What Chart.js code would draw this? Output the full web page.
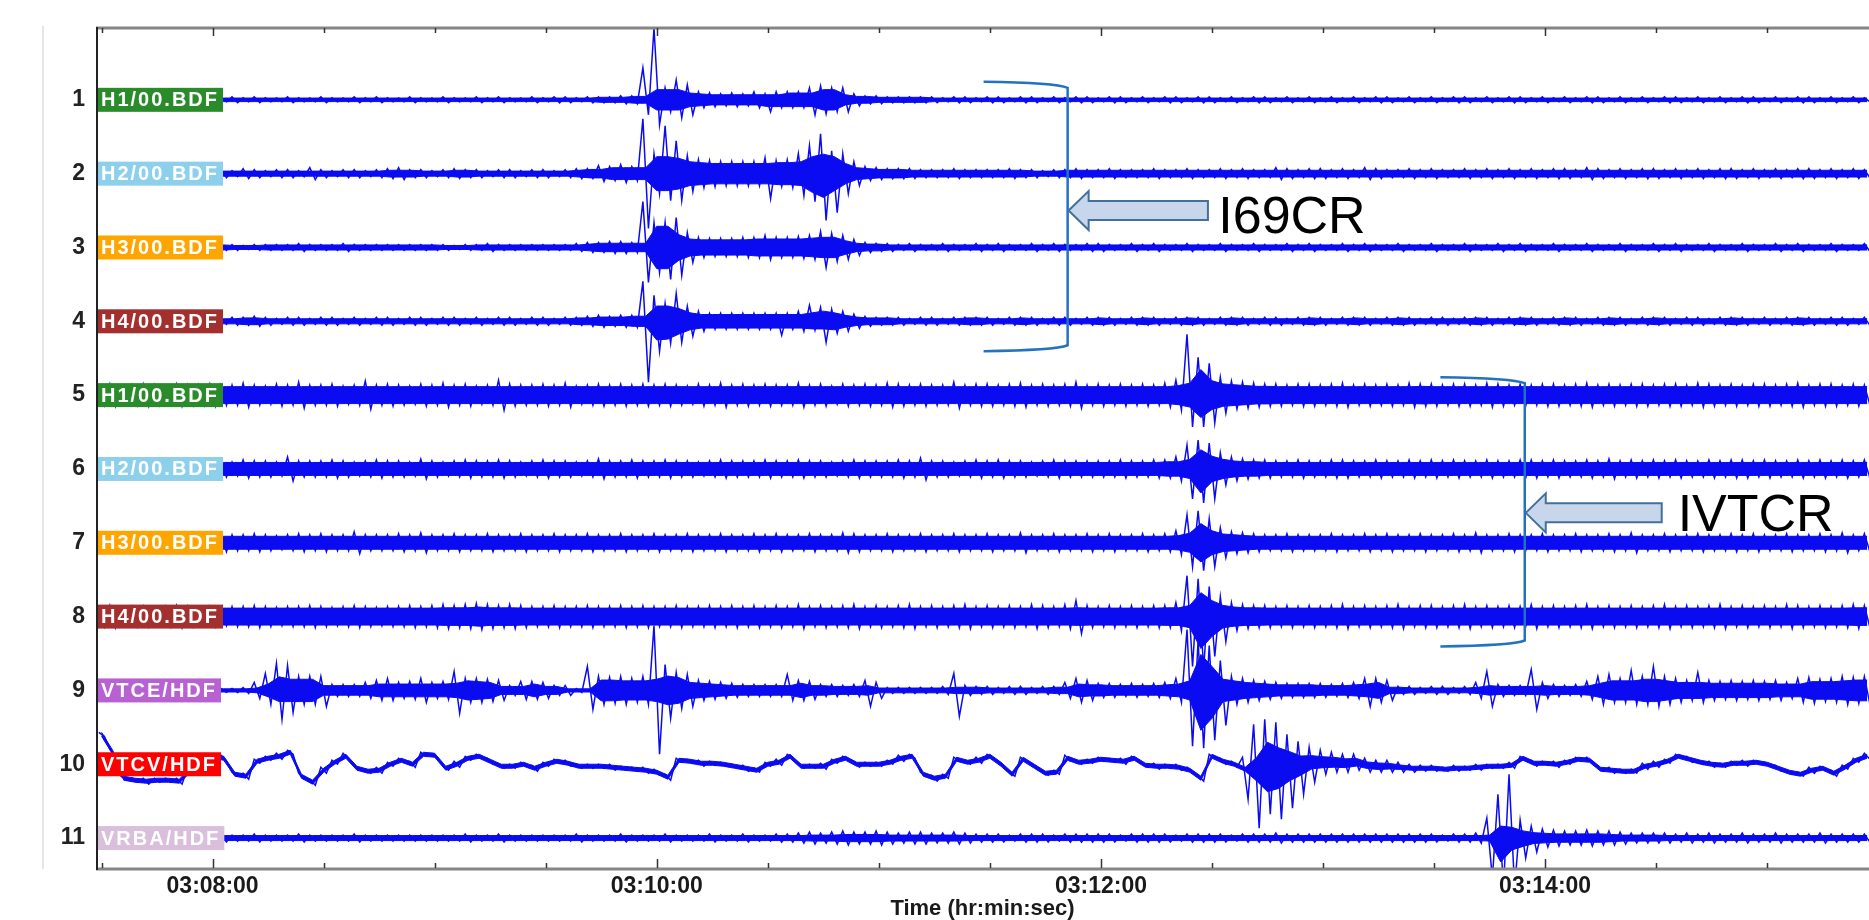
<!DOCTYPE html>
<html>
<head>
<meta charset="utf-8">
<script src="https://cdn.jsdelivr.net/npm/chart.js@4.4.1/dist/chart.umd.min.js"></script>
<style>
  html, body { margin: 0; padding: 0; background: #fff; overflow: hidden; }
  #wrap { width: 1869px; height: 920px; position: relative; }
</style>
</head>
<body>
<div id="wrap"><canvas id="seis"></canvas></div>
<script>
// rows top to bottom
const rowNums = ['1', '2', '3', '4', '5', '6', '7', '8', '9', '10', '11'];
const chanNames = ['H1/00.BDF', 'H2/00.BDF', 'H3/00.BDF', 'H4/00.BDF',
  'H1/00.BDF', 'H2/00.BDF', 'H3/00.BDF', 'H4/00.BDF',
  'VTCE/HDF', 'VTCV/HDF', 'VRBA/HDF'];
const chanColors = ['#2a8b2a', '#8dd0ec', '#ffa500', '#a3302f',
  '#2a8b2a', '#8dd0ec', '#ffa500', '#a3302f',
  '#b861d3', '#ff0000', '#d9bfdc'];

// time axis, seconds after 03:08:00
const binStart = -30, binStep = 3;
const timeTicks = [0, 120, 240, 360];
const timeLabels = ['03:08:00', '03:10:00', '03:12:00', '03:14:00'];

// trace half-widths per 3 s bin ([up, down] where they differ)
const i69h1 = [
  2,3,2,3,2,2,3,2,2,3, 2,2,3,2,3,2,2,3,2,2, 3,2,2,3,2,3,2,2,3,2, 2,3,2,2,3,2,3,2,2,3,
  2,3,3,2,3,3,3,4,4,[32,15], [72,25],12,[20,18],15,8,7,6,7,6,8, [6,12],8,8,8,[12,15],14,12,12,6,4, 4,3,3,3,3,3,2,3,3,2,
  3,3,2,3,3,2,3,2,3,3, 2,3,3,2,3,2,3,3,2,3, 3,2,3,2,3,3,2,3,2,3, 2,3,2,3,2,3,3,2,3,2,
  3,2,3,3,2,3,2,3,3,2, 3,2,3,2,3,3,2,3,2,3, 2,3,3,2,3,2,3,2,3,3, 2,3,2,3,3,2,3,2,3,2];
const i69h2 = [
  4,3,4,4,3,4,3,4,4,3, 4,4,3,5,4,3,4,4,3,6, 4,3,4,4,3,4,5,6,4,4, 3,4,5,4,4,3,4,4,3,4,
  4,3,4,5,5,8,7,9,7,[55,55], 20,[48,27],[33,27],18,14,13,12,12,12,12, [16,25],13,14,[20,22],28,[40,47],[23,39],20,12,7, 6,5,5,5,4,4,4,5,4,4,
  4,4,5,4,4,3,4,4,5,4, 4,5,4,4,4,5,4,4,5,4, 4,5,4,5,4,4,6,5,4,5, 5,4,5,4,6,5,4,4,5,4,
  5,4,4,5,4,5,4,5,4,5, 4,5,5,4,6,5,4,5,4,5, 5,4,5,4,5,4,5,5,4,5, 4,5,4,5,5,4,5,4,5,4];
const i69h3 = [
  3,3,2,3,3,3,2,3,3,3, 3,3,3,2,3,3,3,3,4,3, 3,3,4,3,3,3,3,3,3,3, 3,3,2,3,3,4,3,3,3,3,
  3,3,3,4,5,5,6,6,5,[46,35], 25,[25,32],[30,28],15,10,9,9,9,10,10, 12,10,10,11,12,[16,20],14,12,8,5, 4,4,3,4,3,3,4,3,3,4,
  3,4,3,3,4,3,4,3,3,4, 4,3,3,4,3,4,3,3,4,3, 3,4,3,3,4,3,3,4,3,4, 3,3,4,3,4,3,3,4,3,3,
  4,3,3,4,3,3,4,3,4,3, 3,4,3,3,4,3,3,4,3,3, 4,3,4,3,3,4,3,3,4,3, 3,4,3,4,3,3,4,3,3,4];
const i69h4 = [
  4,3,4,4,3,4,4,3,4,3, 4,3,4,4,5,4,3,4,4,3, 4,4,3,4,3,4,4,3,4,4, 3,4,4,3,4,3,4,4,3,4,
  4,3,4,4,5,6,5,6,6,[40,61], [26,30],[18,22],[28,21],15,10,8,8,8,8,8, 8,[8,14],8,10,[16,9],[14,21],12,10,7,5, 4,4,4,3,4,4,3,4,4,4,
  4,3,4,4,4,3,4,4,3,4, 4,4,3,4,4,4,3,4,4,4, 3,4,4,4,3,4,4,3,4,4, 4,3,4,4,4,3,4,4,4,3,
  4,4,3,4,4,4,3,4,4,4, 3,4,4,4,3,4,4,4,3,4, 4,4,3,4,4,3,4,4,4,3, 4,3,4,4,4,3,4,4,3,4];
const ivth1 = [
  10,11,9,10,11,10,9,11,10,10, 11,10,10,12,10,9,11,10,13,10, 10,11,9,10,14,10,11,10,9,11, 10,12,10,11,9,10,15,11,10,10,
  11,10,12,9,10,11,10,11,10,11, 10,11,10,9,11,10,12,10,11,10, 11,10,10,12,10,11,9,11,10,11, 10,12,11,10,11,10,10,13,10,11,
  11,10,11,12,10,11,10,11,13,10, 11,10,11,10,11,10,12,15,[61,32],[38,32], [32,28],18,14,13,12,11,11,10,11,11, 10,11,12,10,11,10,11,10,12,11,
  11,10,11,11,10,12,11,10,11,10, 11,11,10,11,12,10,11,10,11,11, 10,11,11,10,12,11,10,11,10,11, 11,10,11,12,10,11,11,10,11,10];
const ivth2 = [
  8,7,8,9,8,7,8,8,9,7, 8,8,7,9,8,8,7,12,8,8, 8,9,8,7,8,9,8,8,7,10, 8,7,8,9,8,8,9,8,7,8,
  9,8,8,7,8,10,8,8,9,8, 8,9,8,8,7,8,9,8,8,8, 9,8,8,9,8,8,7,8,9,8, 8,8,9,8,11,8,8,7,8,9,
  8,9,8,8,7,8,9,8,8,8, 8,8,9,8,8,9,9,12,[24,30],[29,34], [26,30],16,12,10,9,9,8,8,9,8, 8,9,9,8,8,9,8,8,9,8,
  9,8,9,8,8,9,8,8,9,9, 8,9,8,8,9,8,10,8,9,8, 9,8,9,8,8,9,8,9,9,8, 9,8,8,9,8,9,8,9,8,9];
const ivth3 = [
  8,8,7,8,9,8,8,7,8,8, 8,9,8,8,9,8,7,8,9,8, 9,8,8,11,8,8,8,9,8,10, 8,8,9,8,8,9,8,8,9,8,
  8,9,8,8,9,8,8,9,8,8, 9,8,8,9,8,8,9,8,8,9, 8,9,8,8,9,8,8,10,9,8, 8,9,8,8,9,8,8,9,8,8,
  9,8,8,10,8,8,9,8,8,9, 8,9,8,8,9,8,9,12,[28,24],[32,28], [24,24],15,11,10,9,8,8,9,8,8, 8,9,8,8,9,8,9,8,8,9,
  8,8,9,8,10,8,8,9,8,8, 9,8,8,9,8,8,9,8,10,8, 8,9,8,8,9,8,8,9,8,9, 8,8,9,8,8,9,8,10,8,9];
const ivth4 = [
  10,11,9,10,10,9,10,11,10,9, 10,9,10,10,11,10,9,10,10,11, 10,9,10,11,10,9,10,10,11,10, 11,12,11,12,13,12,11,12,11,10,
  10,11,10,10,11,10,10,11,10,11, 10,10,11,10,10,11,10,11,10,11, 10,11,10,12,10,11,10,11,12,10, 11,10,11,12,10,11,10,11,12,10,
  11,10,11,10,12,11,10,12,[16,17],11, 10,11,10,11,10,11,11,14,[41,50],[38,52], [30,40],[20,25],14,12,11,11,10,11,10,11, 10,11,12,10,11,10,11,12,10,11,
  11,10,11,12,10,11,10,11,10,12, 10,11,10,11,12,10,11,10,11,10, 11,12,10,11,10,11,12,10,11,10, 11,10,12,11,10,11,10,11,12,11];
const vtce = [
  2,2,2,2,2,2,2,2,2,2, 2,2,2,3,8,[17,14],[27,29],[25,22],14,14, [14,16],6,6,6,8,10,[12,10],8,9,12, 8,9,[19,23],12,12,11,10,5,9,9,
  8,5,5,2,[24,19],14,13,14,12,14, [65,64],[26,28],18,16,10,9,8,7,6,6, 6,6,[16,10],10,9,6,6,5,6,[10,16], 8,3,3,3,3,3,4,[17,26],5,4,
  4,3,4,4,3,4,4,8,12,10, 7,7,6,7,6,7,8,12,[61,56],[50,58], [45,50],[30,35],14,12,10,9,8,7,7,7, 7,6,7,8,[12,16],12,10,4,4,3,
  4,4,3,4,8,[19,16],6,5,5,[21,19], 8,6,5,6,9,14,[16,12],12,[20,14],14, [24,16],14,12,10,[18,12],10,9,10,9,10, 9,10,8,12,13,11,12,14,13,14];
const vtcv = [
  2,3,2,2,3,2,2,3,2,2, 2,3,2,3,2,2,3,2,3,3, 3,2,3,2,2,3,2,2,3,2, 2,2,3,2,2,3,2,2,2,3,
  2,2,3,2,2,2,3,2,2,3, 3,3,2,2,3,2,2,2,3,2, 2,3,2,2,2,3,2,2,3,2, 2,2,3,2,2,3,2,2,2,3,
  2,3,2,2,3,2,2,3,2,2, 2,2,3,2,2,3,2,3,3,3, 2,3,3,[12,30],[40,64],[45,50],[42,55],[30,44],[23,30],[15,20], 12,10,9,8,7,6,6,5,4,3,
  3,2,3,2,3,2,2,3,2,3, 2,3,2,2,3,2,3,2,2,3, 3,2,2,3,2,3,2,2,3,2, 2,3,2,2,3,2,3,2,2,3];
// slow drift of the VTCV line (down = positive)
const vtcvMid = [
  -30,-12,14,16,17,16,16,17,6,-2, -8,-6,10,12,-3,-6,-8,-12,12,18, 6,-2,-8,4,7,6,0,-4,0,-10, -9,4,0,-6,-8,-3,2,2,0,4,
  0,-3,-1,2,2,2,3,4,5,6, 8,13,-4,-3,-1,-1,0,2,4,6, 0,-2,-8,2,2,2,-3,-6,0,0, 0,-2,-6,-8,10,14,12,-5,-2,-4,
  -8,0,10,-5,2,9,8,-6,-2,-3, -5,-4,-3,-6,1,2,2,3,6,14, -8,-3,0,5,0,0,0,0,0,-2, -2,-2,-1,-2,1,2,2,3,4,4,
  4,5,4,4,3,2,2,1,-6,-1, -1,0,-2,-5,-4,5,6,7,7,2, 0,-3,-8,-5,-2,0,1,-1,-1,-2, 0,4,8,10,6,4,9,3,-4,-8];
const vrba = [
  3,3,3,3,3,3,3,3,3,3, 3,4,3,3,4,3,3,3,4,3, 3,3,3,4,3,3,3,3,3,3, 3,3,3,4,3,3,4,3,3,3,
  3,3,3,4,3,3,3,4,3,3, 3,4,3,3,3,4,3,3,4,3, 3,4,4,5,6,5,6,7,6,6, 7,6,5,6,6,5,5,6,5,4,
  4,4,3,4,4,4,3,4,4,4, 4,4,3,4,4,4,4,3,4,4, 4,4,3,4,4,4,5,4,4,4, 4,4,4,4,4,4,4,4,4,4,
  4,3,4,4,5,[20,40],[44,50],[64,50],[18,20],[12,14], 9,8,7,7,8,7,7,6,5,5, 5,5,4,5,4,5,4,4,5,4, 4,5,4,4,4,5,4,4,4,4];

const traces = [i69h1, i69h2, i69h3, i69h4, ivth1, ivth2, ivth3, ivth4, vtce, vtcv, vrba];
const traceMid = { 9: vtcvMid };
// solid core half-width of each trace between wiggles, and how much of a burst is solid
const coreWidth = [1.8, 2.5, 2, 2.5, 8.5, 6.5, 6.5, 8.5, 1.5, 2, 2.5];
const coreFrac = [0.85, 0.85, 0.85, 0.85, 0.8, 0.8, 0.8, 0.8, 0.8, 0.55, 0.6];

const GAP = 74;
const blue = '#0b0bf2';

const datasets = [];
traces.forEach((amp, k) => {
  const mid = traceMid[k];
  const core = coreWidth[k];
  const frac = coreFrac[k];
  const n = amp.length;
  const upAt = i => Array.isArray(amp[i]) ? amp[i][0] : amp[i];
  const dnAt = i => Array.isArray(amp[i]) ? amp[i][1] : amp[i];
  const centre = i => k * GAP + (mid ? mid[i] : 0);
  // solid part of the band
  const coreOf = (f, i) => {
    const m = Math.min(f(Math.max(i - 1, 0)), f(i), f(Math.min(i + 1, n - 1)));
    return Math.min(f(i), Math.max(core, frac * m));
  };
  const hi = [], lo = [], wig = [];
  amp.forEach((v, i) => {
    const t = binStart + i * binStep;
    const c = centre(i);
    hi.push({ x: t, y: c - coreOf(upAt, i) });
    lo.push({ x: t, y: c + coreOf(dnAt, i) });
    wig.push({ x: t - binStep / 4, y: c - upAt(i) });
    wig.push({ x: t + binStep / 4, y: c + dnAt(i) });
  });
  datasets.push({ data: hi, borderColor: blue, borderWidth: 1, pointRadius: 0, fill: false });
  datasets.push({ data: lo, borderColor: blue, borderWidth: 1, pointRadius: 0, fill: '-1', backgroundColor: blue });
  datasets.push({ data: wig, borderColor: blue, borderWidth: 1.5, pointRadius: 0, fill: false });
});

// bracket + arrow notes (times in s, rows 0-based)
const notes = [
  { text: 'I69CR', t0: 208.3, t1: 231, rowTop: 0, rowBot: 3, arrowRow: 1.5, arrowOff: 0, tailT: 268.9, textT: 271.7, textDy: 22 },
  { text: 'IVTCR', t0: 331.7, t1: 354.5, rowTop: 4, rowBot: 7, arrowRow: 5.5, arrowOff: 7, tailT: 391.5, textT: 395.8, textDy: 18 }
];

const overlay = {
  id: 'overlay',
  beforeDraw(chart) {
    const { ctx } = chart;
    ctx.save();
    ctx.strokeStyle = '#e6e6e6';
    ctx.lineWidth = 2;
    ctx.beginPath();
    ctx.moveTo(43, 26);
    ctx.lineTo(43, 869);
    ctx.stroke();
    ctx.restore();
  },
  afterDatasetsDraw(chart) {
    const { ctx, chartArea: a, scales: { x, y } } = chart;
    ctx.save();

    // channel name boxes
    ctx.font = 'bold 20px "Liberation Sans", Arial, sans-serif';
    ctx.letterSpacing = '2px';
    ctx.textBaseline = 'middle';
    chanNames.forEach((name, k) => {
      const yc = y.getPixelForValue(k * GAP);
      const w = ctx.measureText(name).width + 8;
      ctx.fillStyle = chanColors[k];
      ctx.fillRect(a.left + 1, yc - 12, w, 24);
      ctx.fillStyle = '#fff';
      ctx.fillText(name, a.left + 5, yc + 1);
    });
    ctx.letterSpacing = '0px';

    // frame
    ctx.strokeStyle = '#858585';
    ctx.lineWidth = 3;
    ctx.beginPath();
    ctx.moveTo(a.left, a.top); ctx.lineTo(a.right, a.top);
    ctx.moveTo(a.left, a.bottom + 1); ctx.lineTo(a.right, a.bottom + 1);
    ctx.stroke();
    ctx.strokeStyle = '#222';
    ctx.lineWidth = 2;
    ctx.beginPath();
    ctx.moveTo(a.left + 1, a.top - 1); ctx.lineTo(a.left + 1, a.bottom + 2);
    ctx.stroke();

    // time ticks on both edges
    ctx.strokeStyle = '#333';
    ctx.lineWidth = 1.5;
    ctx.beginPath();
    x.ticks.forEach(tk => {
      const px = Math.round(x.getPixelForValue(tk.value)) + 0.5;
      const major = timeTicks.includes(tk.value);
      ctx.moveTo(px, a.top); ctx.lineTo(px, a.top + (major ? 8 : 5));
      ctx.moveTo(px, a.bottom); ctx.lineTo(px, a.bottom - (major ? 9 : 5));
    });
    ctx.stroke();

    // brackets, arrows and station names
    notes.forEach(n => {
      const xl = x.getPixelForValue(n.t0);
      const xr = x.getPixelForValue(n.t1);
      const yt = y.getPixelForValue(n.rowTop * GAP - 18);
      const yb = y.getPixelForValue(n.rowBot * GAP + 30);
      ctx.strokeStyle = '#2272c0';
      ctx.lineWidth = 2.5;
      ctx.beginPath();
      ctx.moveTo(xl, yt);
      ctx.quadraticCurveTo(xr - 12, yt + 1, xr, yt + 6);
      ctx.lineTo(xr, yb - 6);
      ctx.quadraticCurveTo(xr - 12, yb - 1, xl, yb);
      ctx.stroke();

      const ya = y.getPixelForValue(n.arrowRow * GAP + n.arrowOff);
      const tip = xr + 1;
      const tail = x.getPixelForValue(n.tailT);
      ctx.beginPath();
      ctx.moveTo(tip, ya);
      ctx.lineTo(tip + 20, ya - 19.5);
      ctx.lineTo(tip + 20, ya - 9.5);
      ctx.lineTo(tail, ya - 9.5);
      ctx.lineTo(tail, ya + 9.5);
      ctx.lineTo(tip + 20, ya + 9.5);
      ctx.lineTo(tip + 20, ya + 19.5);
      ctx.closePath();
      ctx.fillStyle = '#c8d6ec';
      ctx.fill();
      ctx.strokeStyle = '#41709c';
      ctx.lineWidth = 2;
      ctx.stroke();

      ctx.fillStyle = '#000';
      ctx.font = '52px "Liberation Sans", Arial, sans-serif';
      ctx.textBaseline = 'alphabetic';
      ctx.textAlign = 'left';
      ctx.fillText(n.text, x.getPixelForValue(n.textT), ya + n.textDy);
    });
    ctx.restore();
  }
};

const labelFont = { family: '"Liberation Sans", Arial, sans-serif', size: 23, weight: 'bold' };

new Chart(document.getElementById('seis'), {
  type: 'line',
  data: { datasets },
  options: {
    responsive: true,
    maintainAspectRatio: false,
    animation: false,
    layout: { padding: { top: 28, right: 0, left: 0, bottom: 0 } },
    plugins: { legend: { display: false }, tooltip: { enabled: false } },
    elements: { line: { tension: 0 } },
    scales: {
      x: {
        type: 'linear',
        min: -31.5,
        max: 447.5,
        border: { display: false },
        grid: { display: false, drawTicks: false },
        afterBuildTicks(scale) {
          const ts = [];
          for (let v = -30; v <= 420; v += 30) ts.push({ value: v });
          scale.ticks = ts;
        },
        afterFit(scale) { scale.height = 52; },
        ticks: {
          autoSkip: false,
          maxRotation: 0,
          padding: 5,
          color: '#1a1a1a',
          font: labelFont,
          callback(v) {
            const i = timeTicks.indexOf(v);
            return i >= 0 ? timeLabels[i] : '';
          }
        },
        title: {
          display: true,
          text: 'Time (hr:min:sec)',
          color: '#1a1a1a',
          font: { family: '"Liberation Sans", Arial, sans-serif', size: 22, weight: 'bold', lineHeight: 1 },
          padding: { top: 0, bottom: 0 }
        }
      },
      y: {
        type: 'linear',
        reverse: true,
        min: -72,
        max: 770,
        border: { display: false },
        grid: { display: false, drawTicks: false },
        afterBuildTicks(scale) {
          scale.ticks = rowNums.map((_, k) => ({ value: k * GAP }));
        },
        afterFit(scale) { scale.width = 96; },
        ticks: {
          padding: 11,
          color: '#222',
          font: labelFont,
          callback(v) { return rowNums[Math.round(v / GAP)]; }
        }
      }
    }
  },
  plugins: [overlay]
});
</script>
</body>
</html>
